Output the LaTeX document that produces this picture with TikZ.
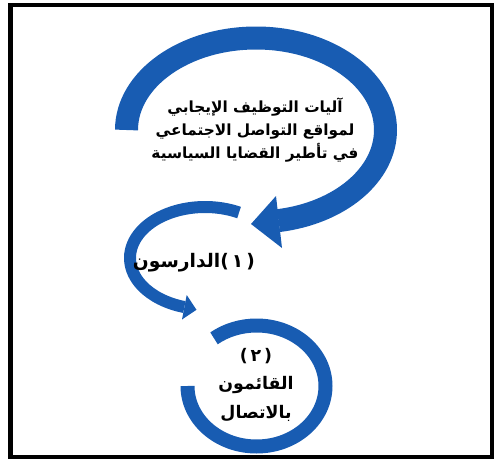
\documentclass[tikz,border=0pt]{standalone}
\usepackage{fontspec}
\newfontfamily\arabicfont[Script=Arabic]{DejaVu Sans}
\TeXXeTstate=1
\definecolor{arcblue}{RGB}{24,92,178}
\tikzset{
  band/.style={draw=arcblue, line cap=butt},
  headfill/.style={fill=arcblue, draw=none},
  artext/.style={font=\arabicfont\bfseries, align=center, text=black, inner sep=0pt},
}
\begin{document}
\begin{tikzpicture}[x=0.75pt,y=-0.75pt]
\useasboundingbox (0,0) rectangle (494,461);
% frame
\draw[line width=3pt] (10.5,5) rectangle (491.5,456.5);
% big arc
\coordinate (bigstart) at (126.5,130);
\draw[band, line width=17.25pt] (bigstart) arc[start angle=180, end angle=440, x radius=129.5, y radius=92] coordinate (bigend);
\coordinate (bigtip) at (251,224);
\coordinate (bigc1) at (276,196);
\coordinate (bigc2) at (282,248);
\fill[headfill] (bigtip) -- (bigc1) -- (bigc2) -- cycle;
% small arc (1)
\coordinate (smstart) at (239.05,212.56);
\draw[band, line width=9pt] (smstart) arc[start angle=297, end angle=106, x radius=75, y radius=51] coordinate (smend);
\coordinate (smtip) at (196.5,309.8);
\coordinate (smc1) at (186.7,295);
\coordinate (smc2) at (182,319.5);
\fill[headfill] (smtip) -- (smc1) -- (smc2) -- cycle;
% ring (2)
\coordinate (rgstart) at (187.5,386);
\draw[band, line width=10.5pt] (rgstart) arc[start angle=180, end angle=-128, x radius=69, y radius=60.5];
% texts
\node[artext, font=\arabicfont\bfseries\fontsize{11.5}{17}\selectfont] (main) at (255,130)
  {\beginR آليات التوظيف الإيجابي\endR\\ \beginR لمواقع التواصل الاجتماعي\endR\\ \beginR في تأطير القضايا السياسية\endR};
\node[artext, font=\arabicfont\bfseries\fontsize{14}{17}\selectfont] (first) at (194,263)
  {\beginR (\,١\,)الدارسون\endR};
\node[artext, font=\arabicfont\bfseries\fontsize{13}{21.5}\selectfont] (second) at (256,385)
  {\beginR (\,٢\,)\endR\\ \beginR القائمون\endR\\ \beginR بالاتصال\endR};
\end{tikzpicture}
\end{document}
